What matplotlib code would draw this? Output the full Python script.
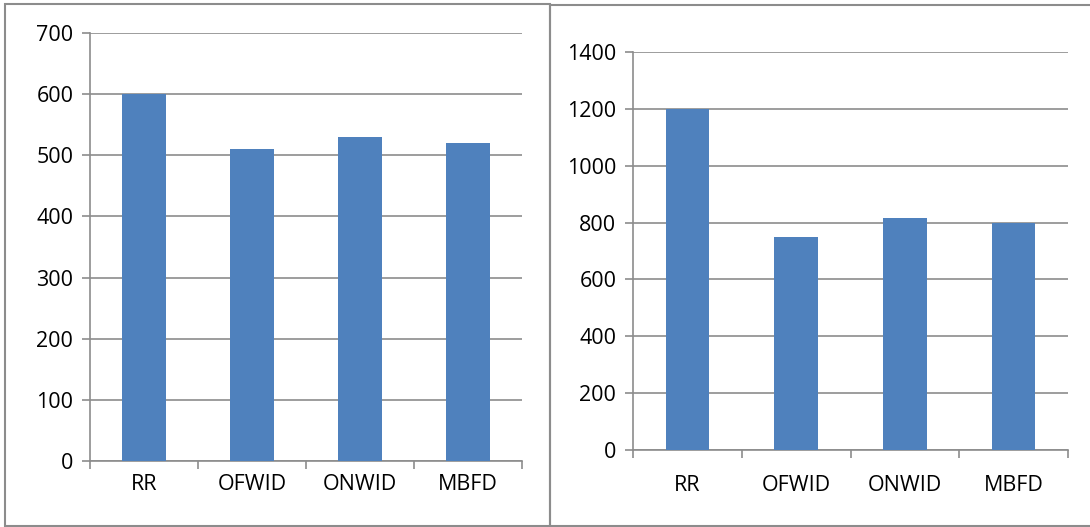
import matplotlib
matplotlib.use("Agg")
import matplotlib.pyplot as plt
from matplotlib.patches import Rectangle

# data
categories = ["RR", "OFWID", "ONWID", "MBFD"]
left_values = [600, 510, 530, 520]
right_values = [1200, 750, 815, 800]
left_ticks = [0, 100, 200, 300, 400, 500, 600, 700]
right_ticks = [0, 200, 400, 600, 800, 1000, 1200, 1400]

bar_color = "#4F81BD"
grid_color = "#8c8c8c"

plt.rcParams['font.family'] = ['Open Sans', 'DejaVu Sans']

W, H = 1090, 527
fig = plt.figure(figsize=(W / 100, H / 100), dpi=100)


def px_axes(x0, x1, y_top, y_bot):
    # pixel box -> figure fraction
    return [x0 / W, (H - y_bot) / H, (x1 - x0) / W, (y_bot - y_top) / H]


def draw(ax, values, ticks, xpad):
    x = range(len(categories))
    ax.bar(x, values, width=0.4, color=bar_color, zorder=3)
    ax.set_xlim(-0.5, len(categories) - 0.5)
    ax.set_ylim(ticks[0], ticks[-1])
    ax.set_yticks(ticks)
    ax.set_yticklabels([str(t) for t in ticks])
    ax.set_xticks(list(x))
    ax.set_xticklabels(categories)
    ax.set_xticks([i - 0.5 for i in range(len(categories) + 1)], minor=True)
    ax.tick_params(axis='x', which='major', length=0, pad=xpad, labelsize=15.5)
    ax.tick_params(axis='x', which='minor', length=6, color=grid_color, width=1.2)
    ax.tick_params(axis='y', length=6, color=grid_color, width=1.2, pad=6, labelsize=15.5)
    ax.grid(axis='y', color=grid_color, linewidth=1.2, zorder=0)
    for s in ['top', 'right']:
        ax.spines[s].set_visible(False)
    for s in ['left', 'bottom']:
        ax.spines[s].set_color(grid_color)
        ax.spines[s].set_linewidth(1.2)
    ax.set_axisbelow(True)


ax1 = fig.add_axes(px_axes(90, 522, 33, 461))
draw(ax1, left_values, left_ticks, 9)

ax2 = fig.add_axes(px_axes(633, 1068, 52, 450))
draw(ax2, right_values, right_ticks, 18)

# frames around each panel
for (x0, x1, yt, yb) in [(5, 550, 4, 526), (550, 1092, 5, 526)]:
    fig.add_artist(Rectangle((x0 / W, (H - yb) / H), (x1 - x0) / W, (yb - yt) / H,
                             transform=fig.transFigure, fill=False,
                             edgecolor=grid_color, linewidth=1.5))

fig.savefig("out.png", dpi=100)
